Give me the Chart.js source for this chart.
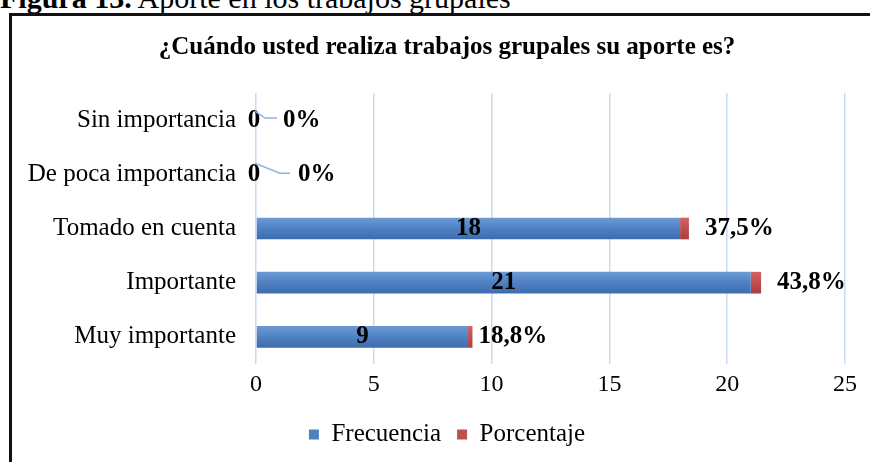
<!DOCTYPE html>
<html>
<head>
<meta charset="utf-8">
<script src="https://cdn.jsdelivr.net/npm/chart.js@4.4.1/dist/chart.umd.min.js"></script>
<style>
  html, body { margin:0; padding:0; width:870px; height:462px; overflow:hidden; background:#fff; }
  #caption { position:absolute; left:0; top:-17px; font-family:"Liberation Serif", serif; font-size:30px; line-height:29px; color:#000; white-space:nowrap; }
  #box { position:absolute; left:9px; top:13px; width:880px; height:460px; border-top:3px solid #111; border-left:3px solid #111; }
  #wrap { position:absolute; left:0; top:0; width:870px; height:446px; }
</style>
</head>
<body>
<div id="caption"><b>Figura 13.</b> Aporte en los trabajos grupales</div>
<div id="box"><div id="wrap"><canvas id="c"></canvas></div></div>
<script>
const categories = ['Sin importancia', 'De poca importancia', 'Tomado en cuenta', 'Importante', 'Muy importante'];
const frecuencia = [0, 0, 18, 21, 9];
const porcentaje = [0, 0, 0.375, 0.438, 0.188];
const xTicks = [0, 5, 10, 15, 20, 25];
const chartTitle = '¿Cuándo usted realiza trabajos grupales su aporte es?';
const seriesNames = ['Frecuencia', 'Porcentaje'];

const SERIF = '"Liberation Serif", "Times New Roman", serif';
const BAR_PCT = 0.4;
const SOLID = ['#4f81bd', '#c0504d'];
const GRAD = [['#6c9ad6', '#4f81c2', '#3b6cb0'], ['#d5625e', '#c0504d', '#a83f3c']];

function barGradient(seriesIdx) {
  return function (context) {
    const chart = context.chart;
    const y = chart.scales && chart.scales.y;
    if (!chart.chartArea || !y || context.dataIndex === undefined) return SOLID[seriesIdx];
    const yc = y.getPixelForValue(context.dataIndex);
    const h = (chart.chartArea.bottom - chart.chartArea.top) / categories.length * BAR_PCT;
    const g = chart.ctx.createLinearGradient(0, yc - h / 2, 0, yc + h / 2);
    const c = GRAD[seriesIdx];
    g.addColorStop(0, c[0]); g.addColorStop(0.5, c[1]); g.addColorStop(1, c[2]);
    return g;
  };
}

const labelPlugin = {
  id: 'barLabels',
  afterDatasetsDraw(chart, args, opts) {
    const ctx = chart.ctx;
    const m0 = chart.getDatasetMeta(0), m1 = chart.getDatasetMeta(1);
    ctx.save();
    ctx.font = 'bold 25px ' + SERIF;
    ctx.fillStyle = '#000';
    ctx.textBaseline = 'middle';
    m0.data.forEach((bar, i) => {
      const v = frecuencia[i];
      const cx = v === 0 ? bar.x - 2 : (bar.base + bar.x) / 2;
      ctx.textAlign = 'center';
      ctx.fillText(String(v), cx, bar.y);
    });
    m1.data.forEach((bar, i) => {
      const v = porcentaje[i];
      const txt = v === 0 ? '0%' : (v * 100).toFixed(1).replace('.', ',') + '%';
      const off = opts.offsets[i];
      ctx.textAlign = 'left';
      ctx.fillText(txt, bar.x + off, bar.y);
      const leader = opts.leaders[i];
      if (leader) {
        ctx.beginPath();
        ctx.strokeStyle = '#8fb4e3';
        ctx.lineWidth = 1.5;
        leader.forEach((p, k) => {
          const px = bar.x + p[0], py = bar.y + p[1];
          if (k === 0) ctx.moveTo(px, py); else ctx.lineTo(px, py);
        });
        ctx.stroke();
      }
    });
    ctx.restore();
  }
};

new Chart(document.getElementById('c'), {
  type: 'bar',
  data: {
    labels: categories,
    datasets: [
      { label: seriesNames[0], data: frecuencia, backgroundColor: barGradient(0), borderWidth: 0, barPercentage: BAR_PCT, categoryPercentage: 1 },
      { label: seriesNames[1], data: porcentaje, backgroundColor: barGradient(1), borderWidth: 0, barPercentage: BAR_PCT, categoryPercentage: 1 }
    ]
  },
  options: {
    indexAxis: 'y',
    responsive: true,
    maintainAspectRatio: false,
    animation: false,
    layout: { padding: { left: 0, right: 0, top: 0, bottom: 5 } },
    scales: {
      x: {
        stacked: true,
        min: 0, max: 25,
        afterBuildTicks(scale) { scale.ticks = xTicks.map(v => ({ value: v })); },
        afterFit(scale) { scale.height = 42; },
        ticks: { font: { family: SERIF, size: 24 }, color: '#000', padding: 6.5 },
        grid: { color: '#cadaef', lineWidth: 1.5, drawTicks: false },
        border: { display: false }
      },
      y: {
        stacked: true,
        afterFit(scale) { scale.width = 244; },
        ticks: { font: { family: SERIF, size: 25 }, color: '#000', padding: 20 },
        grid: { display: false, drawTicks: false },
        border: { display: false }
      },
      yRight: {
        type: 'linear',
        position: 'right',
        afterFit(scale) { scale.width = 37; },
        ticks: { display: false },
        grid: { display: false, drawTicks: false },
        border: { display: false }
      }
    },
    plugins: {
      title: {
        display: true,
        text: chartTitle,
        font: { family: SERIF, size: 25, weight: 'bold' },
        color: '#000',
        padding: { top: 17, bottom: 30 }
      },
      legend: {
        position: 'bottom',
        labels: {
          font: { family: SERIF, size: 25 }, color: '#000', boxWidth: 10, boxHeight: 10, padding: 16,
          generateLabels(chart) {
            const items = Chart.defaults.plugins.legend.labels.generateLabels(chart);
            items.forEach((it, i) => { it.fillStyle = SOLID[i]; it.strokeStyle = SOLID[i]; it.lineWidth = 0; });
            return items;
          }
        }
      },
      tooltip: { enabled: false },
      barLabels: {
        offsets: [27, 42, 16, 16, 6],
        leaders: [
          [[-1, -9], [9, -2], [21, -2]],
          [[-1, -11], [24, -1], [34, -1]],
          null, null, null
        ]
      }
    }
  },
  plugins: [labelPlugin]
});
</script>
</body>
</html>
